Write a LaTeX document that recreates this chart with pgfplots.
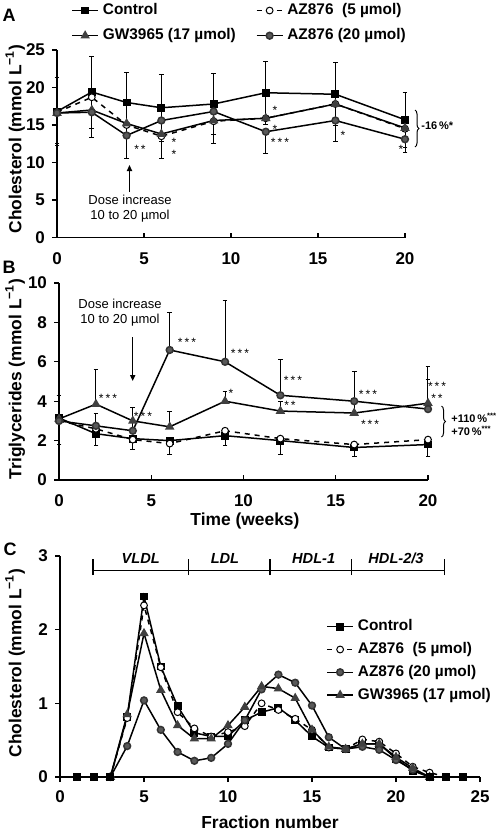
\documentclass[border=0pt]{standalone}
\usepackage{fontspec}
\setmainfont{Liberation Sans}
\usepackage{pgfplots}
\pgfplotsset{compat=1.18}
\usetikzlibrary{decorations.pathreplacing,arrows.meta}
\newcommand{\U}{0.5pt}
\pgfplotsset{
  panel/.style={scale only axis, axis x line=bottom, axis y line=left,
    axis line style={line width=0.75pt,-}, enlargelimits=false,
    tick style={black,line width=0.6pt}, major tick length=2.5pt, tick align=outside,
    tick label style={font=\fontsize{8.5}{9}\selectfont\bfseries},
    /pgf/number format/assume math mode=true,
    label style={font=\fontsize{8.7}{10}\selectfont\bfseries},
    clip=false},
  ctrl/.style={black, line width=0.75pt, mark=square*, mark size=1.6pt, mark options={solid, fill=black}},
  az5/.style={black, line width=0.75pt, dash pattern=on 2.5pt off 2.5pt, mark=*, mark size=1.7pt, mark options={solid, fill=white, draw=black, line width=0.5pt}},
  gw/.style={black, line width=0.75pt, mark=triangle*, mark size=2pt, mark options={solid, fill=black!75, draw=black!75}},
  az20/.style={black, line width=0.75pt, mark=*, mark size=1.7pt, mark options={solid, fill=black!65, draw=black!80}},
  eb/.style={error bars/error bar style={black, line width=0.5pt, solid},
    error bars/error mark options={rotate=90, black, mark size=1.2pt, line width=0.5pt}},
  lg/.style={legend cell align=left,
    legend image code/.code={\draw[mark repeat=2,mark phase=2,##1] plot coordinates {(0pt,0pt) (6.5pt,0pt) (13pt,0pt)};}},
}
\begin{document}
\begin{tikzpicture}
\path[use as bounding box] (0,0) rectangle ({501*\U},{-830*\U});
% ---------------- Panel A ----------------
\begin{axis}[panel, at={({57*\U},{-237.5*\U})}, anchor=south west,
  width=174pt, height=93.75pt, xmin=0, xmax=20, ymin=0, ymax=25,
  xtick={0,5,10,15,20}, ytick={0,5,10,15,20,25},
  xtick style={yshift=2.5pt}, x tick label style={yshift=-1.5pt},
  ylabel={Cholesterol (mmol L\textsuperscript{−1})},
  ylabel style={at={(rel axis cs:-0.12,0.525)}, anchor=center},
  lg, legend columns=2,
  legend style={at={(rel axis cs:0.023,1.293)}, anchor=north west, draw=none, fill=none,
    font=\fontsize{7.7}{9}\selectfont\bfseries, row sep=1.5pt,
    /tikz/every even column/.append style={column sep=8pt}}]
\addplot[ctrl, eb, error bars/.cd, y dir=both, y explicit] coordinates {
 (0,16.8) +- (0,4.5) (2,19.4) +- (0,4.8) (4,18.0) +- (0,4.0) (6,17.3) +- (0,4.5)
 (9,17.8) +- (0,4.1) (12,19.3) +- (0,4.2) (16,19.1) +- (0,4.2) (20,15.7) +- (0,3.7)};
\addlegendentry{Control}
\addplot[az5] coordinates {
 (0,16.7) (2,18.7) (4,15.0) (6,13.5) (9,15.5) (12,15.9) (16,17.8) (20,14.5)};
\addlegendentry{AZ876\ \ (5 µmol)}
\addplot[gw] coordinates {
 (0,16.6) (2,17.0) (4,15.2) (6,13.8) (9,15.6) (12,15.9) (16,17.8) (20,14.6)};
\addlegendentry{GW3965 (17 µmol)}
\addplot[az20, eb, error bars/.cd, y dir=minus, y explicit] coordinates {
 (0,16.6) +- (0,4.0) (2,16.7) +- (0,3.4) (4,13.6) +- (0,3.1) (6,15.6) +- (0,5.0)
 (9,16.8) +- (0,4.3) (12,14.1) +- (0,2.9) (16,15.6) +- (0,2.8) (20,13.1) +- (0,1.8)};
\addlegendentry{AZ876 (20 µmol)}
\end{axis}
% ---------------- Panel B ----------------
\begin{axis}[panel, at={({59*\U},{-480*\U})}, anchor=south west,
  width=184.5pt, height=98.5pt, xmin=0, xmax=20, ymin=0, ymax=10,
  xtick={0,5,10,15,20}, ytick={0,2,4,6,8,10},
  xtick style={yshift=2.5pt}, x tick label style={yshift=-1.5pt},
  ylabel={Triglycerides (mmol L\textsuperscript{−1})},
  ylabel style={at={(rel axis cs:-0.119,0.513)}, anchor=center},
  xlabel={Time (weeks)},
  xlabel style={at={(rel axis cs:0.504,-0.208)}, anchor=center}]
\addplot[ctrl, eb, error bars/.cd, y dir=minus, y explicit] coordinates {
 (0,3.15) +- (0,1.35) (2,2.35) +- (0,0.6) (4,2.1) +- (0,0.55) (6,2.0) +- (0,0.7)
 (9,2.25) +- (0,0.5) (12,2.0) +- (0,0.7) (16,1.65) +- (0,0.45) (20,1.8) +- (0,0.6)};
\addplot[az5] coordinates {
 (0,3.0) (2,2.6) (4,2.05) (6,1.85) (9,2.5) (12,2.1) (16,1.8) (20,2.05)};
\addplot[gw, eb, error bars/.cd, y dir=plus, y explicit] coordinates {
 (0,3.1) +- (0,1.2) (2,3.85) +- (0,1.75) (4,3.0) +- (0,0.7) (6,2.7) +- (0,0.8)
 (9,4.0) +- (0,0.5) (12,3.5) +- (0,0.5) (16,3.4) +- (0,0.5) (20,3.9) +- (0,1.2)};
\addplot[az20, eb, error bars/.cd, y dir=plus, y explicit] coordinates {
 (0,3.0) +- (0,1.3) (2,2.75) +- (0,0.65) (4,2.5) +- (0,1.2) (6,6.6) +- (0,1.9)
 (9,6.0) +- (0,3.1) (12,4.3) +- (0,1.8) (16,4.0) +- (0,1.5) (20,3.6) +- (0,2.15)};
\end{axis}
% ---------------- Panel C ----------------
\begin{axis}[panel, at={({60*\U},{-777*\U})}, anchor=south west,
  width=210pt, height=110.5pt, xmin=0, xmax=25, ymin=0, ymax=3,
  xtick={0,5,10,15,20,25}, ytick={0,1,2,3},
  x tick label style={yshift=-1pt},
  ylabel={Cholesterol (mmol L\textsuperscript{−1})},
  ylabel style={at={(rel axis cs:-0.107,0.516)}, anchor=center},
  xlabel={Fraction number},
  xlabel style={at={(rel axis cs:0.5,-0.204)}, anchor=center},
  lg,
  legend style={at={(rel axis cs:0.619,0.75)}, anchor=north west, draw=none, fill=none,
    font=\fontsize{7.7}{9}\selectfont\bfseries, row sep=0.3pt}]
\addplot[ctrl] coordinates {
 (1,0) (2,0) (3,0) (4,0.82) (5,2.45) (6,1.5) (7,0.96) (8,0.6) (9,0.55) (10,0.55)
 (11,0.77) (12,0.88) (13,0.94) (14,0.77) (15,0.55) (16,0.40) (17,0.38) (18,0.45)
 (19,0.45) (20,0.25) (21,0.085) (22,0) (23,0) (24,0)};
\addlegendentry{Control}
\addplot[az5] coordinates {
 (3,0) (4,0.80) (5,2.33) (6,1.49) (7,0.88) (8,0.66) (9,0.55) (10,0.61) (11,0.69)
 (12,1.0) (13,0.91) (14,0.79) (15,0.64) (16,0.40) (17,0.38) (18,0.51) (19,0.48)
 (20,0.32) (21,0.14) (22,0.06) (23,0)};
\addlegendentry{AZ876\ \ (5 µmol)}
\addplot[az20] coordinates {
 (3,0) (4,0.42) (5,1.04) (6,0.64) (7,0.34) (8,0.22) (9,0.26) (10,0.45) (11,0.77)
 (12,1.19) (13,1.39) (14,1.28) (15,0.97) (16,0.54) (17,0.38) (18,0.41) (19,0.37)
 (20,0.23) (21,0.10) (22,0)};
\addlegendentry{AZ876 (20 µmol)}
\addplot[gw] coordinates {
 (3,0) (4,0.85) (5,1.95) (6,1.18) (7,0.70) (8,0.52) (9,0.52) (10,0.70) (11,0.95)
 (12,1.23) (13,1.20) (14,1.07) (15,0.64) (16,0.41) (17,0.38) (18,0.45) (19,0.45)
 (20,0.27) (21,0.12) (22,0)};
\addlegendentry{GW3965 (17 µmol)}
\addplot[ctrl, forget plot, only marks] coordinates {(1,0) (2,0) (3,0) (22,0) (23,0) (24,0)};
% fraction bands
\draw[line width=0.75pt] (axis cs:1.95,2.80) -- (axis cs:22.9,2.80);
\draw[line width=0.75pt] (axis cs:1.95,2.74) -- (axis cs:1.95,2.96);
\draw[line width=0.75pt] (axis cs:7.66,2.74) -- (axis cs:7.66,2.96);
\draw[line width=0.75pt] (axis cs:12.5,2.74) -- (axis cs:12.5,2.96);
\draw[line width=0.75pt] (axis cs:17.36,2.74) -- (axis cs:17.36,2.96);
\draw[line width=0.75pt] (axis cs:22.9,2.74) -- (axis cs:22.9,2.96);
\node[font=\fontsize{7.3}{8}\selectfont\bfseries\itshape] at (axis cs:4.81,2.97) {VLDL};
\node[font=\fontsize{7.3}{8}\selectfont\bfseries\itshape] at (axis cs:9.82,2.97) {LDL};
\node[font=\fontsize{7.3}{8}\selectfont\bfseries\itshape] at (axis cs:15.1,2.97) {HDL-1};
\node[font=\fontsize{7.3}{8}\selectfont\bfseries\itshape] at (axis cs:20.0,2.97) {HDL-2/3};
\end{axis}
% ---------------- annotations ----------------
\node[font=\fontsize{9}{10}\selectfont\bfseries] at ({9*\U},{-15*\U}) {A};
\node[font=\fontsize{9}{10}\selectfont\bfseries] at ({9*\U},{-267*\U}) {B};
\node[font=\fontsize{9}{10}\selectfont\bfseries] at ({10*\U},{-549*\U}) {C};
% panel A
\node[font=\fontsize{6.5}{7.5}\selectfont, align=center] at ({130*\U},{-208.5*\U}) {Dose increase\\10 to 20 µmol};
\draw[-{Triangle[length=3pt,width=2.6pt]}, line width=0.6pt] ({129.5*\U},{-192*\U}) -- ({129.5*\U},{-165*\U});
\begin{scope}[every node/.style={font=\fontsize{6}{6}\selectfont, inner sep=0pt}]
\node at ({140*\U},{-149*\U}) {*\,*};
\node at ({174*\U},{-142*\U}) {*};
\node at ({174*\U},{-154*\U}) {*};
\node at ({275*\U},{-110*\U}) {*};
\node at ({275*\U},{-129*\U}) {*};
\node at ({280*\U},{-142*\U}) {*\,*\,*};
\node at ({343*\U},{-135*\U}) {*};
\node at ({401*\U},{-149*\U}) {*};
% panel B
\node at ({108*\U},{-398*\U}) {*\,*\,*};
\node at ({143*\U},{-416*\U}) {*\,*\,*};
\node at ({187*\U},{-342*\U}) {*\,*\,*};
\node at ({240*\U},{-353*\U}) {*\,*\,*};
\node at ({231*\U},{-393*\U}) {*};
\node at ({293*\U},{-380*\U}) {*\,*\,*};
\node at ({290*\U},{-405*\U}) {*\,*};
\node at ({368*\U},{-394*\U}) {*\,*\,*};
\node at ({370*\U},{-424*\U}) {*\,*\,*};
\node at ({437*\U},{-386*\U}) {*\,*\,*};
\node at ({437*\U},{-398*\U}) {*\,*};
\end{scope}
\draw[decorate, decoration={brace, amplitude=2pt}, line width=0.5pt] ({415*\U},{-110*\U}) -- ({415*\U},{-147*\U});
\node[font=\fontsize{5.5}{6}\selectfont\bfseries, anchor=west, inner sep=0pt] at ({421*\U},{-126*\U}) {-16\,\%*};
\draw[decorate, decoration={brace, amplitude=2pt}, line width=0.5pt] ({441.5*\U},{-406*\U}) -- ({441.5*\U},{-437*\U});
\node[font=\fontsize{5.5}{6}\selectfont\bfseries, anchor=west, inner sep=0pt] at ({451*\U},{-418*\U}) {+110\,\%\textsuperscript{***}};
\node[font=\fontsize{5.5}{6}\selectfont\bfseries, anchor=west, inner sep=0pt] at ({451*\U},{-431*\U}) {+70\,\%\textsuperscript{***}};
\node[font=\fontsize{6.5}{7.5}\selectfont, align=center] at ({120*\U},{-313*\U}) {Dose increase\\10 to 20 µmol};
\draw[-{Triangle[length=3pt,width=2.6pt]}, line width=0.6pt] ({132.7*\U},{-337*\U}) -- ({132.7*\U},{-381*\U});
\end{tikzpicture}
\end{document}
